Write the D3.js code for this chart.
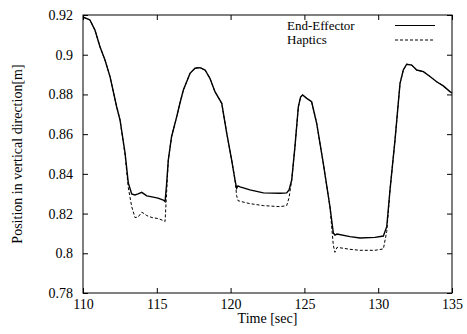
<!DOCTYPE html>
<html>
<head>
<meta charset="utf-8">
<script src="https://cdn.jsdelivr.net/npm/d3@7"></script>
<style>
  body { margin: 0; background: #fff; }
  svg text { font-family: "Liberation Serif", "Times New Roman", serif; fill: #000; }
</style>
</head>
<body>
<svg id="plot" width="467" height="334"></svg>
<script>
// Sample times [sec]
const times = [
    110.0, 110.47, 110.81, 111.15, 111.49, 111.83, 112.28, 112.51, 112.85, 113.07,
    113.3, 113.52, 113.73, 113.98, 114.13, 114.32, 114.67, 115.08, 115.44, 115.56,
    115.66, 115.78, 116.0, 116.35, 116.57, 116.8, 117.25, 117.59, 117.93, 118.27,
    118.6, 118.94, 119.4, 119.74, 120.07, 120.3, 120.41, 120.5, 120.64, 121.31,
    122.22, 123.35, 123.8, 123.96, 124.14, 124.36, 124.59, 124.74, 124.88, 125.16,
    125.49, 125.83, 126.28, 126.73, 126.96, 127.07, 127.21, 128.09, 128.77, 129.78,
    130.35, 130.58, 130.8, 131.14, 131.48, 131.7, 131.93, 132.27, 132.61, 133.06,
    133.51, 133.96, 134.41, 134.86, 135.0
];

// End-Effector position [m]
const endEffector = [
    0.919, 0.9175, 0.9124, 0.904, 0.8973, 0.889, 0.8738, 0.8671, 0.8505, 0.8354,
    0.8299, 0.8294, 0.8299, 0.8307, 0.8299, 0.8289, 0.8284, 0.8278, 0.8268, 0.826,
    0.8344, 0.847, 0.8587, 0.8688, 0.8757, 0.8822, 0.8906, 0.8932, 0.8935, 0.8923,
    0.8881, 0.8814, 0.8755, 0.8604, 0.847, 0.8369, 0.8327, 0.8339, 0.8334, 0.8319,
    0.8304, 0.8302, 0.8304, 0.8319, 0.8369, 0.8537, 0.8738, 0.8787, 0.8797, 0.878,
    0.8763, 0.8655, 0.8453, 0.8235, 0.8102, 0.8092, 0.8097, 0.8084, 0.8077, 0.808,
    0.8087, 0.8134, 0.8319, 0.8571, 0.8856, 0.8923, 0.8952, 0.8948, 0.8923, 0.8915,
    0.889, 0.8864, 0.8843, 0.8814, 0.8807
];

// Haptics position [m]
const haptics = [
    0.919, 0.9175, 0.9124, 0.904, 0.8973, 0.889, 0.8738, 0.8671, 0.8495, 0.833,
    0.8235, 0.818, 0.8182, 0.8207, 0.82, 0.819, 0.818, 0.8175, 0.8165, 0.816,
    0.83, 0.847, 0.8587, 0.8688, 0.8757, 0.8822, 0.8906, 0.8932, 0.8935, 0.8923,
    0.8881, 0.8814, 0.8755, 0.8604, 0.847, 0.8369, 0.829, 0.8265, 0.8262, 0.825,
    0.824, 0.8235, 0.824, 0.828, 0.8369, 0.8537, 0.8738, 0.8787, 0.8797, 0.878,
    0.8763, 0.8655, 0.8453, 0.8235, 0.804, 0.8005, 0.803, 0.802, 0.8015, 0.8015,
    0.8022, 0.811, 0.8319, 0.8571, 0.8856, 0.8923, 0.8952, 0.8948, 0.8923, 0.8915,
    0.889, 0.8864, 0.8843, 0.8814, 0.8807
];

const xTicks = [110, 115, 120, 125, 130, 135];
const yTicks = [0.78, 0.8, 0.82, 0.84, 0.86, 0.88, 0.9, 0.92];
const seriesNames = ["End-Effector", "Haptics"];

const FONT = '"Liberation Serif", "Times New Roman", serif';
const margin = { top: 15, right: 15, bottom: 41, left: 83 };
const width = 467 - margin.left - margin.right;
const height = 334 - margin.top - margin.bottom;

const x = d3.scaleLinear().domain([110, 135]).range([0, width]);
const y = d3.scaleLinear().domain([0.78, 0.92]).range([height, 0]);

const svg = d3.select("#plot");
const g = svg.append("g")
    .attr("transform", "translate(" + margin.left + "," + margin.top + ")");

// axes with inward ticks on all four sides
g.append("g")
    .attr("transform", "translate(0," + height + ")")
    .call(d3.axisBottom(x).tickValues(xTicks).tickSizeInner(-5).tickSizeOuter(0).tickPadding(6))
    .call(a => a.selectAll("text").style("font-size", "14px").style("font-family", FONT));
g.append("g")
    .call(d3.axisTop(x).tickValues(xTicks).tickSizeInner(-5).tickSizeOuter(0).tickFormat(""));
g.append("g")
    .call(d3.axisLeft(y).tickValues(yTicks).tickSizeInner(-5).tickSizeOuter(0).tickPadding(10)
        .tickFormat(d => String(+d.toFixed(2))))
    .call(a => a.selectAll("text").style("font-size", "14px").style("font-family", FONT));
g.append("g")
    .attr("transform", "translate(" + width + ",0)")
    .call(d3.axisRight(y).tickValues(yTicks).tickSizeInner(-5).tickSizeOuter(0).tickFormat(""));
g.selectAll(".domain").remove();
g.selectAll(".tick line").attr("stroke", "#000");

// frame
g.append("rect")
    .attr("width", width).attr("height", height)
    .attr("fill", "none").attr("stroke", "#000").attr("stroke-width", 1);

// lines
const line = d3.line()
    .x((d, i) => x(times[i]))
    .y(d => y(d));

g.append("path")
    .datum(haptics)
    .attr("fill", "none")
    .attr("stroke", "#000")
    .attr("stroke-width", 1)
    .attr("stroke-dasharray", "3,2")
    .attr("d", line);

g.append("path")
    .datum(endEffector)
    .attr("fill", "none")
    .attr("stroke", "#000")
    .attr("stroke-width", 1.4)
    .attr("d", line);

// legend
const legend = g.append("g").attr("transform", "translate(204,0)");
seriesNames.forEach((name, i) => {
    legend.append("text")
        .attr("x", 0)
        .attr("y", 14.5 + i * 14.5)
        .style("font-size", "13px")
        .style("font-family", FONT)
        .text(name);
    legend.append("line")
        .attr("x1", 108).attr("x2", 148)
        .attr("y1", 10.5 + i * 14.5).attr("y2", 10.5 + i * 14.5)
        .attr("stroke", "#000")
        .attr("stroke-width", 1)
        .attr("stroke-dasharray", i === 1 ? "3,2" : null);
});

// axis titles
svg.append("text")
    .attr("x", margin.left + width / 2)
    .attr("y", 323)
    .attr("text-anchor", "middle")
    .style("font-size", "14px")
    .style("font-family", FONT)
    .text("Time [sec]");

svg.append("text")
    .attr("transform", "translate(22," + (margin.top + height / 2) + ") rotate(-90)")
    .attr("text-anchor", "middle")
    .style("font-size", "14px")
    .style("font-family", FONT)
    .text("Position in vertical direction[m]");
</script>
</body>
</html>
